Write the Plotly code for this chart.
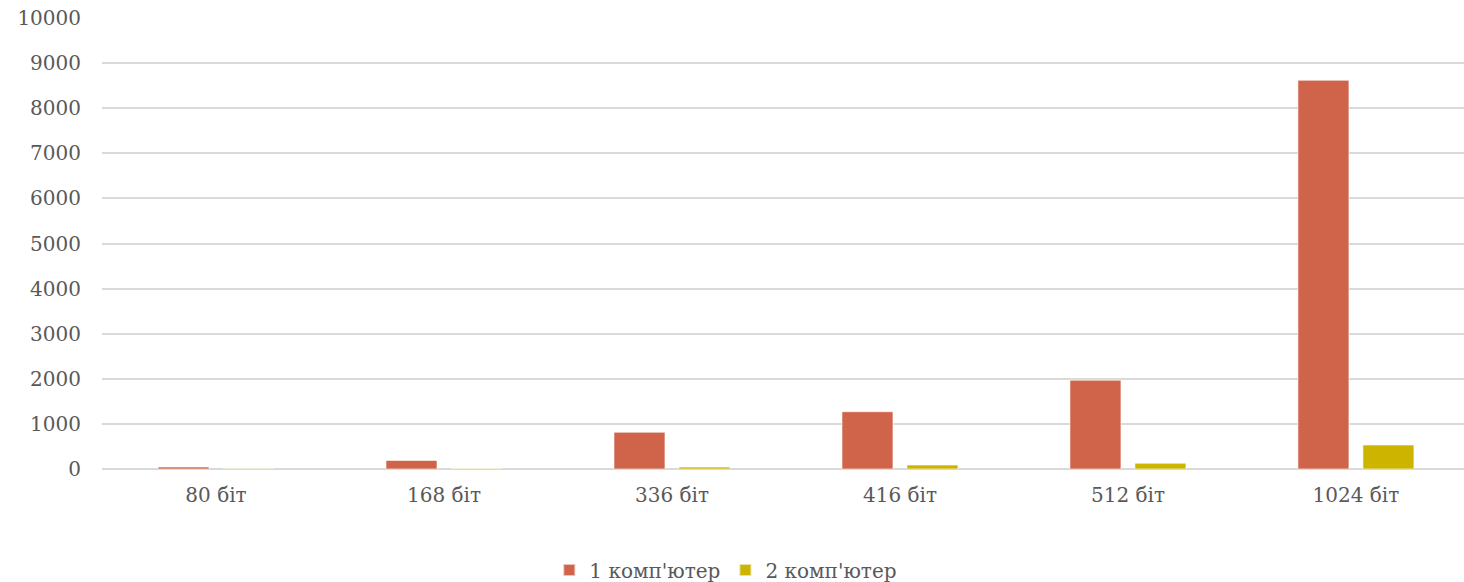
import plotly.graph_objects as go

categories = ["80 біт", "168 біт", "336 біт", "416 біт", "512 біт", "1024 біт"]
series1_name = "1 комп'ютер"
series2_name = "2 комп'ютер"
series1 = [45, 190, 815, 1270, 1970, 8620]
series2 = [4, 12, 42, 88, 128, 532]
y_ticks = [0, 1000, 2000, 3000, 4000, 5000, 6000, 7000, 8000, 9000, 10000]
y_tick_text = [str(v) for v in y_ticks]

FONT = "DejaVu Serif"
TXT = "#595959"

fig = go.Figure()
fig.add_trace(go.Bar(x=categories, y=series1, name=series1_name,
                     marker=dict(color="#D0644A", line=dict(color="rgba(255,255,255,0.6)", width=1))))
fig.add_trace(go.Bar(x=categories, y=series2, name=series2_name,
                     marker=dict(color="#CCB400", line=dict(color="rgba(255,255,255,0.6)", width=1))))

fig.update_layout(
    width=1464, height=582,
    margin=dict(l=102, r=0, t=18, b=113, autoexpand=False),
    paper_bgcolor="white", plot_bgcolor="white",
    barmode="group", bargap=0.43, bargroupgap=0.215,
    font=dict(family=FONT, size=20, color=TXT),
    showlegend=True,
    legend=dict(orientation="h", x=0.458, xanchor="center", y=-0.224, yanchor="middle",
                font=dict(family=FONT, size=20, color=TXT), itemsizing="constant",
                traceorder="normal", itemwidth=30),
)
fig.update_xaxes(range=[-0.5, 5.474], showgrid=False, showline=False, zeroline=False,
                 ticks="", tickfont=dict(family=FONT, size=20, color=TXT), ticklabelstandoff=12,
                 automargin=False)
fig.update_yaxes(range=[0, 10000], tickvals=y_ticks, ticktext=y_tick_text, showgrid=True,
                 gridcolor="#D9D9D9", gridwidth=1.5, zeroline=True, zerolinecolor="#D9D9D9",
                 zerolinewidth=2, showline=False, ticks="",
                 tickfont=dict(family=FONT, size=20, color=TXT), ticklabelstandoff=20,
                 automargin=False)

fig.write_html("out.html")
